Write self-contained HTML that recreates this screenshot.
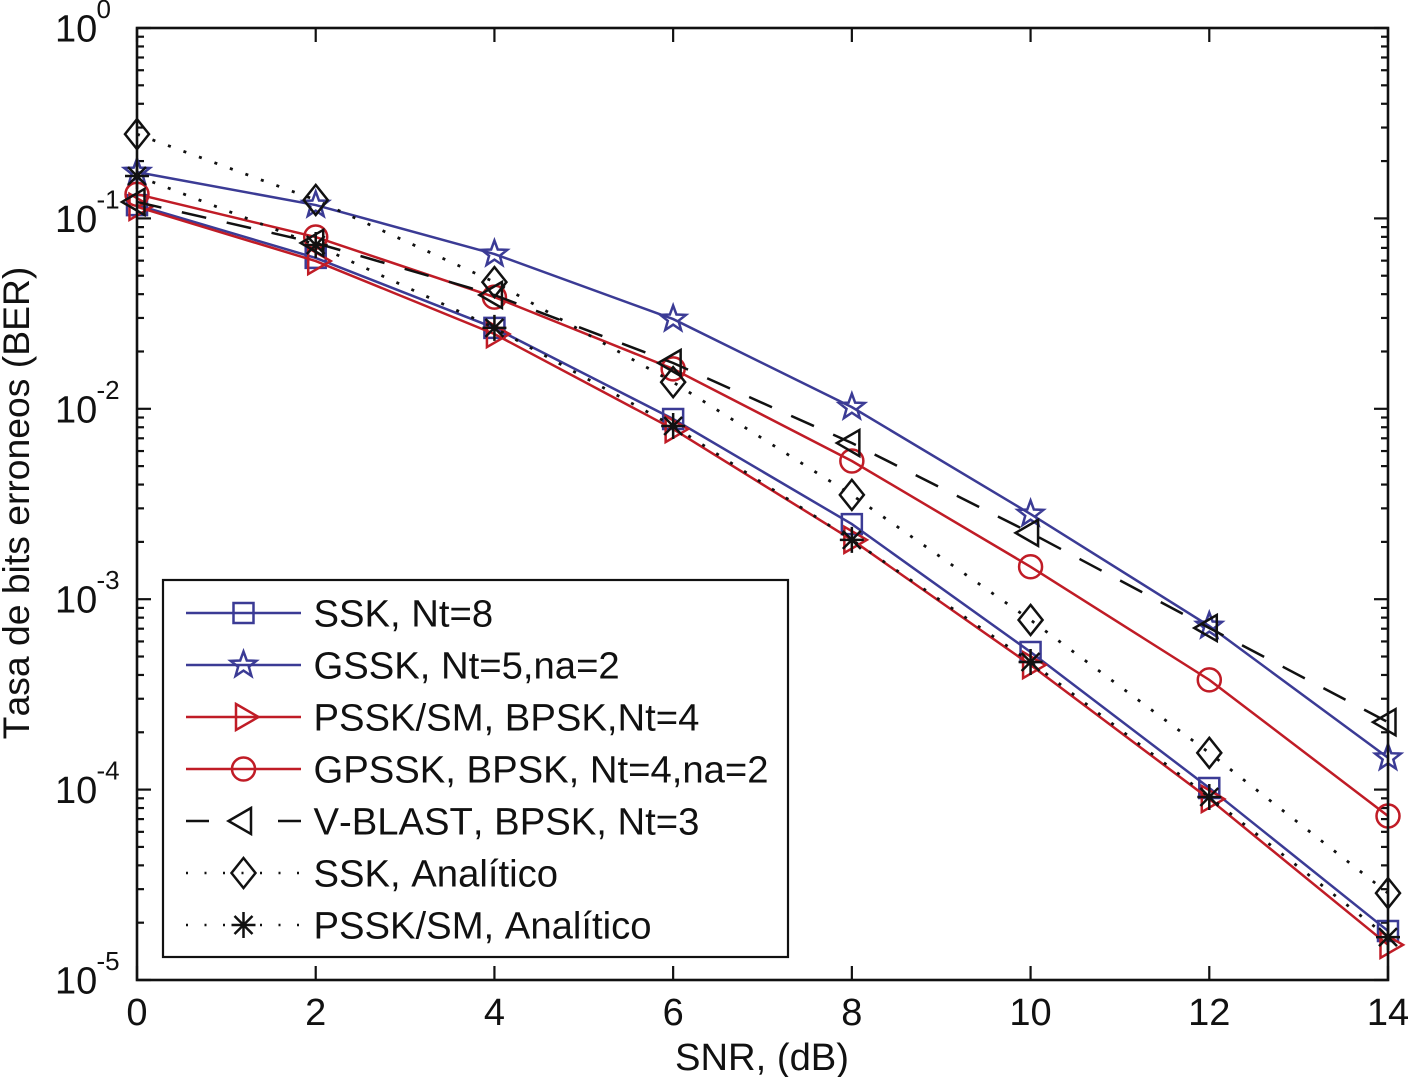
<!DOCTYPE html>
<html lang="es">
<head>
<meta charset="utf-8">
<title>BER vs SNR</title>
<style>
html,body{margin:0;padding:0;background:#fff;}
svg{display:block;}
text{font-family:"Liberation Sans",sans-serif;fill:#111;font-kerning:none;}
</style>
</head>
<body>
<svg id="chart" xmlns="http://www.w3.org/2000/svg" width="1408" height="1077" viewBox="0 0 1408 1077">
  <rect x="137" y="28" width="1251" height="952" fill="#fff"/>
  <g id="ticks"></g>
  <g id="series"></g>
  <rect x="137" y="28" width="1251" height="952" fill="none" stroke="#111" stroke-width="2.6"/>
  <g id="ticklabels"></g>
  <text x="762" y="1070" font-size="38.2" text-anchor="middle">SNR, (dB)</text>
  <text transform="translate(29,503) rotate(-90)" font-size="37.3" text-anchor="middle">Tasa de bits erroneos (BER)</text>
  <g id="legend">
    <rect x="163" y="580" width="625" height="377" fill="#fff" stroke="#111" stroke-width="2.2"/>
  </g>
</svg>
<script>
const snr = [0, 2, 4, 6, 8, 10, 12, 14];
const xTicks = [0, 2, 4, 6, 8, 10, 12, 14];
const yExponents = [0, -1, -2, -3, -4, -5];

const ssk = [0.1175, 0.062, 0.0266, 0.00884, 0.00248, 5.28e-4, 1.02e-4, 1.81e-5];
const gssk = [0.175, 0.1175, 0.065, 0.0296, 0.0102, 0.0028, 7.23e-4, 1.47e-4];
const pssk = [0.115, 0.0597, 0.0247, 0.00783, 0.00205, 4.51e-4, 8.93e-5, 1.53e-5];
const gpssk = [0.134, 0.0798, 0.0386, 0.0162, 0.00532, 0.00148, 3.77e-4, 7.27e-5];
const vblast = [0.122, 0.0743, 0.0396, 0.0174, 0.00661, 0.00223, 7.06e-4, 2.26e-4];
const sskAnalytic = [0.277, 0.125, 0.0463, 0.0138, 0.00353, 7.78e-4, 1.56e-4, 2.86e-5];
const psskAnalytic = [0.167, 0.0725, 0.0266, 0.00812, 0.00205, 4.68e-4, 9.14e-5, 1.68e-5];

const BLUE = '#3b3b95';
const RED = '#c01c26';
const BLACK = '#111111';
const SOLID = '';
const DASHED = '25 21';
const DOTTED = '3 13.5';

const seriesList = [
  {key: 'ssk', label: 'SSK, Nt=8', values: ssk, color: BLUE, dash: SOLID, marker: 'square'},
  {key: 'gssk', label: 'GSSK, Nt=5,na=2', values: gssk, color: BLUE, dash: SOLID, marker: 'star'},
  {key: 'pssk', label: 'PSSK/SM, BPSK,Nt=4', values: pssk, color: RED, dash: SOLID, marker: 'right'},
  {key: 'gpssk', label: 'GPSSK, BPSK, Nt=4,na=2', values: gpssk, color: RED, dash: SOLID, marker: 'circle'},
  {key: 'vblast', label: 'V-BLAST, BPSK, Nt=3', values: vblast, color: BLACK, dash: DASHED, marker: 'left'},
  {key: 'ssk-analytic', label: 'SSK, Analítico', values: sskAnalytic, color: BLACK, dash: DOTTED, marker: 'diamond'},
  {key: 'pssk-analytic', label: 'PSSK/SM, Analítico', values: psskAnalytic, color: BLACK, dash: DOTTED, marker: 'asterisk'}
];

const NS = 'http://www.w3.org/2000/svg';
const plot = {left: 137, right: 1388, top: 28, bottom: 980};
function xScale(v) { return plot.left + (v - 0) / 14 * (plot.right - plot.left); }
function yScale(v) { return plot.top + (0 - Math.log10(v)) / 5 * (plot.bottom - plot.top); }

function make(tag, attrs, parent) {
  const el = document.createElementNS(NS, tag);
  for (const k in attrs) el.setAttribute(k, attrs[k]);
  parent.appendChild(el);
  return el;
}

function markerPath(kind) {
  if (kind === 'square') return 'M-10,-10H10V10H-10Z';
  if (kind === 'right') return 'M-7.5,-13L15,0L-7.5,13Z';
  if (kind === 'left') return 'M7.5,-13L-15,0L7.5,13Z';
  if (kind === 'diamond') return 'M0,-15L12,0L0,15L-12,0Z';
  if (kind === 'asterisk') return 'M-12,0H12M0,-13V13M-9,-9L9,9M-9,9L9,-9';
  if (kind === 'star') {
    let d = '';
    for (let i = 0; i < 10; i++) {
      const r = i % 2 ? 5.6 : 13.5;
      const a = -Math.PI / 2 + i * Math.PI / 5;
      d += (i ? 'L' : 'M') + (r * Math.cos(a)).toFixed(2) + ',' + (r * Math.sin(a)).toFixed(2);
    }
    return d + 'Z';
  }
  return '';
}

function drawMarker(parent, kind, cx, cy, color) {
  if (kind === 'circle') {
    const c = make('circle', {cx: cx, cy: cy, r: 11.5, fill: 'none', stroke: color, 'stroke-width': 2.5}, parent);
    
    
    return c;
  }
  const p = make('path', {d: markerPath(kind), transform: 'translate(' + cx + ',' + cy + ')', fill: 'none', stroke: color, 'stroke-width': 2.5, 'stroke-linejoin': 'miter'}, parent);
  
  
  return p;
}

/* ticks */
const tickGroup = document.getElementById('ticks');
function tickLine(x1, y1, x2, y2, name) {
  const t = make('line', {x1: x1, y1: y1, x2: x2, y2: y2, stroke: '#111', 'stroke-width': 2.2}, tickGroup);
  
  
}
xTicks.forEach(function (v) {
  const x = xScale(v);
  tickLine(x, plot.bottom, x, plot.bottom - 14, 'x-tick');
  tickLine(x, plot.top, x, plot.top + 14, 'x-tick-top');
});
yExponents.forEach(function (e) {
  const major = Math.pow(10, e);
  const y = yScale(major);
  tickLine(plot.left, y, plot.left + 14, y, 'y-tick');
  tickLine(plot.right, y, plot.right - 14, y, 'y-tick-right');
  if (e > -5) {
    for (let m = 2; m < 10; m++) {
      const my = yScale(major / 10 * m);
      tickLine(plot.left, my, plot.left + 7, my, 'y-minor-tick');
      tickLine(plot.right, my, plot.right - 7, my, 'y-minor-tick-right');
    }
  }
});

/* tick labels */
const labelGroup = document.getElementById('ticklabels');
xTicks.forEach(function (v) {
  const t = make('text', {x: xScale(v), y: 1025, 'font-size': 38, 'text-anchor': 'middle'}, labelGroup);
  
  
  t.textContent = String(v);
});
yExponents.forEach(function (e) {
  const y = yScale(Math.pow(10, e));
  const base = make('text', {x: 55, y: y + 13.5, 'font-size': 38}, labelGroup);
  
  
  base.textContent = '10';
  const sup = make('text', {x: 96.5, y: y - 10, 'font-size': 26}, labelGroup);
  
  
  sup.textContent = String(e);
});

/* series */
const seriesGroup = document.getElementById('series');
seriesList.forEach(function (s) {
  const g = make('g', {}, seriesGroup);
  
  
  const pts = s.values.map(function (v, i) { return xScale(snr[i]).toFixed(2) + ',' + yScale(v).toFixed(2); }).join(' ');
  const line = make('polyline', {points: pts, fill: 'none', stroke: s.color, 'stroke-width': s.dash === DOTTED ? 2.8 : 2.5}, g);
  if (s.dash) line.setAttribute('stroke-dasharray', s.dash);
  
  
  s.values.forEach(function (v, i) {
    drawMarker(g, s.marker, xScale(snr[i]), yScale(v), s.color);
  });
});

/* legend */
const legendGroup = document.getElementById('legend');
const legendFirstY = 613;
const legendStep = 52;
seriesList.forEach(function (s, i) {
  const y = legendFirstY + i * legendStep;
  const g = make('g', {}, legendGroup);
  
  
  const sample = make('line', {x1: 186, y1: y, x2: 301, y2: y, stroke: s.color, 'stroke-width': 2.4}, g);
  if (s.dash === DASHED) sample.setAttribute('stroke-dasharray', '23 69 23');
  if (s.dash === DOTTED) sample.setAttribute('stroke-dasharray', '2 16.5');
  
  
  drawMarker(g, s.marker, 243.5, y, s.color);
  const t = make('text', {x: 313.5, y: y + 13.5, 'font-size': 38.25}, g);
  
  
  t.textContent = s.label;
});
</script>
</body>
</html>
